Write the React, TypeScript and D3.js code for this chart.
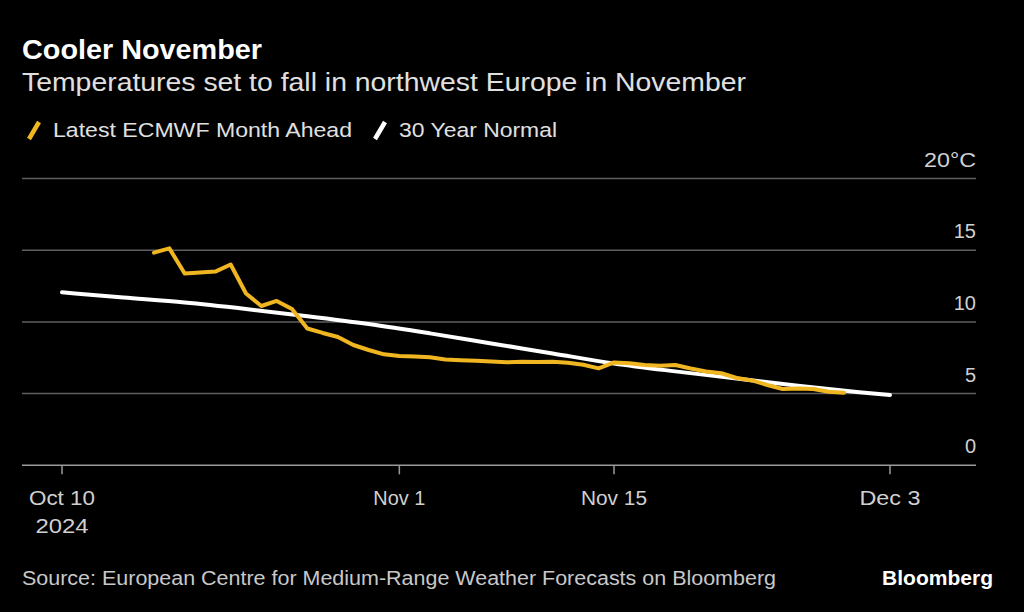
import React from "react";
import * as d3 from "d3";

const startDate = new Date(2024, 9, 10);

// Latest ECMWF Month Ahead: day offset from Oct 10, 2024 and °C
const ecmwfDays = [6, 7, 8, 9, 10, 11, 12, 13, 14, 15, 16, 17, 18, 19, 20, 21, 22, 23, 24, 25, 26, 27, 28, 29, 30, 31, 32, 33, 34, 35, 36, 37, 38, 39, 40, 41, 42, 43, 44, 45, 46, 47, 48, 49, 50, 51];
const ecmwfValues = [14.83, 15.13, 13.38, 13.44, 13.51, 14.0, 11.98, 11.11, 11.46, 10.9, 9.54, 9.23, 8.95, 8.39, 8.04, 7.74, 7.62, 7.59, 7.53, 7.38, 7.33, 7.29, 7.24, 7.18, 7.22, 7.2, 7.22, 7.15, 7.01, 6.76, 7.17, 7.11, 6.99, 6.94, 6.99, 6.75, 6.54, 6.42, 6.09, 5.92, 5.6, 5.32, 5.36, 5.32, 5.13, 5.06];

// 30 Year Normal
const normalDays = [0, 4, 8, 12, 16, 20, 24, 28, 32, 36, 40, 44, 48, 52, 54];
const normalValues = [12.06, 11.7, 11.35, 10.9, 10.4, 9.85, 9.2, 8.5, 7.8, 7.1, 6.55, 6.05, 5.55, 5.1, 4.9];

const yTicks = [0, 5, 10, 15, 20];
const xTickDays = [0, 22, 36, 54];
const xTickLabels = [["Oct 10", "2024"], ["Nov 1"], ["Nov 15"], ["Dec 3"]];
// rendered widths of the x labels (style only)
const xLabelWidths = [[66, 53], [52], [66], [61]];

const dayToDate = (d: number) => d3.timeDay.offset(startDate, d);

export default function App() {
  const W = 1024, H = 612;
  const left = 22, right = 976;
  const x = d3.scaleTime().domain([dayToDate(0), dayToDate(54)]).range([62, 890]);
  const y = d3.scaleLinear().domain([0, 20]).range([465.3, 178.5]);

  const line = d3.line<[number, number]>()
    .x((p) => x(dayToDate(p[0])))
    .y((p) => y(p[1]))
    .curve(d3.curveLinear);
  const normalLine = d3.line<[number, number]>()
    .x((p) => x(dayToDate(p[0])))
    .y((p) => y(p[1]))
    .curve(d3.curveMonotoneX);

  const ecmwf = ecmwfDays.map((d, i) => [d, ecmwfValues[i]] as [number, number]);
  const normal = normalDays.map((d, i) => [d, normalValues[i]] as [number, number]);

  const font = "'Liberation Sans', Arial, Helvetica, sans-serif";
  const yellow = "#F0B621";
  const adj = "spacingAndGlyphs";

  return (
    <svg width={W} height={H} style={{ position: "fixed", left: 0, top: 0, background: "#000" }} fontFamily={font}>
      <rect x={0} y={0} width={W} height={H} fill="#000" />
      <text x={22} y={59} fill="#fff" fontSize={27} fontWeight="bold" textLength={240} lengthAdjust={adj}>Cooler November</text>
      <text x={22} y={91} fill="#e0e0e0" fontSize={25} textLength={724} lengthAdjust={adj}>Temperatures set to fall in northwest Europe in November</text>

      <line x1={29} y1={139} x2={39} y2={122} stroke={yellow} strokeWidth={4.5} />
      <text x={53} y={137} fill="#e0e0e0" fontSize={20.5} textLength={299} lengthAdjust={adj}>Latest ECMWF Month Ahead</text>
      <line x1={375} y1={139} x2={385} y2={122} stroke="#fff" strokeWidth={4.5} />
      <text x={399} y={137} fill="#e0e0e0" fontSize={20.5} textLength={158} lengthAdjust={adj}>30 Year Normal</text>

      {yTicks.map((t) => (
        <g key={t}>
          {t !== 0 && <line x1={left} x2={right} y1={y(t)} y2={y(t)} stroke="#5e5e5e" strokeWidth={1.5} />}
          {t === 20 ? (
            <text x={right} y={y(t) - 12} textAnchor="end" fill="#d0d0d0" fontSize={20} textLength={52} lengthAdjust={adj}>20°C</text>
          ) : (
            <text x={right} y={y(t) - 12} textAnchor="end" fill="#d0d0d0" fontSize={20}>{String(t)}</text>
          )}
        </g>
      ))}
      <line x1={left} x2={right} y1={y(0)} y2={y(0)} stroke="#999" strokeWidth={1.5} />

      {xTickDays.map((d, i) => {
        const xp = x(dayToDate(d));
        return (
          <g key={d}>
            <line x1={xp} x2={xp} y1={y(0)} y2={y(0) + 9} stroke="#999" strokeWidth={1.5} />
            {xTickLabels[i].map((s, j) => (
              <text key={j} x={xp} y={505 + j * 28} textAnchor="middle" fill="#d0d0d0" fontSize={19.5} textLength={xLabelWidths[i][j]} lengthAdjust={adj}>{s}</text>
            ))}
          </g>
        );
      })}

      <path d={normalLine(normal) || ""} fill="none" stroke="#fff" strokeWidth={4} strokeLinecap="round" strokeLinejoin="round" />
      <path d={line(ecmwf) || ""} fill="none" stroke={yellow} strokeWidth={4} strokeLinecap="round" strokeLinejoin="round" />

      <text x={22} y={585} fill="#c8c8c8" fontSize={19.5} textLength={754} lengthAdjust={adj}>Source: European Centre for Medium-Range Weather Forecasts on Bloomberg</text>
      <text x={993} y={585} textAnchor="end" fill="#fff" fontSize={20} fontWeight="bold" textLength={111} lengthAdjust={adj}>Bloomberg</text>
    </svg>
  );
}
